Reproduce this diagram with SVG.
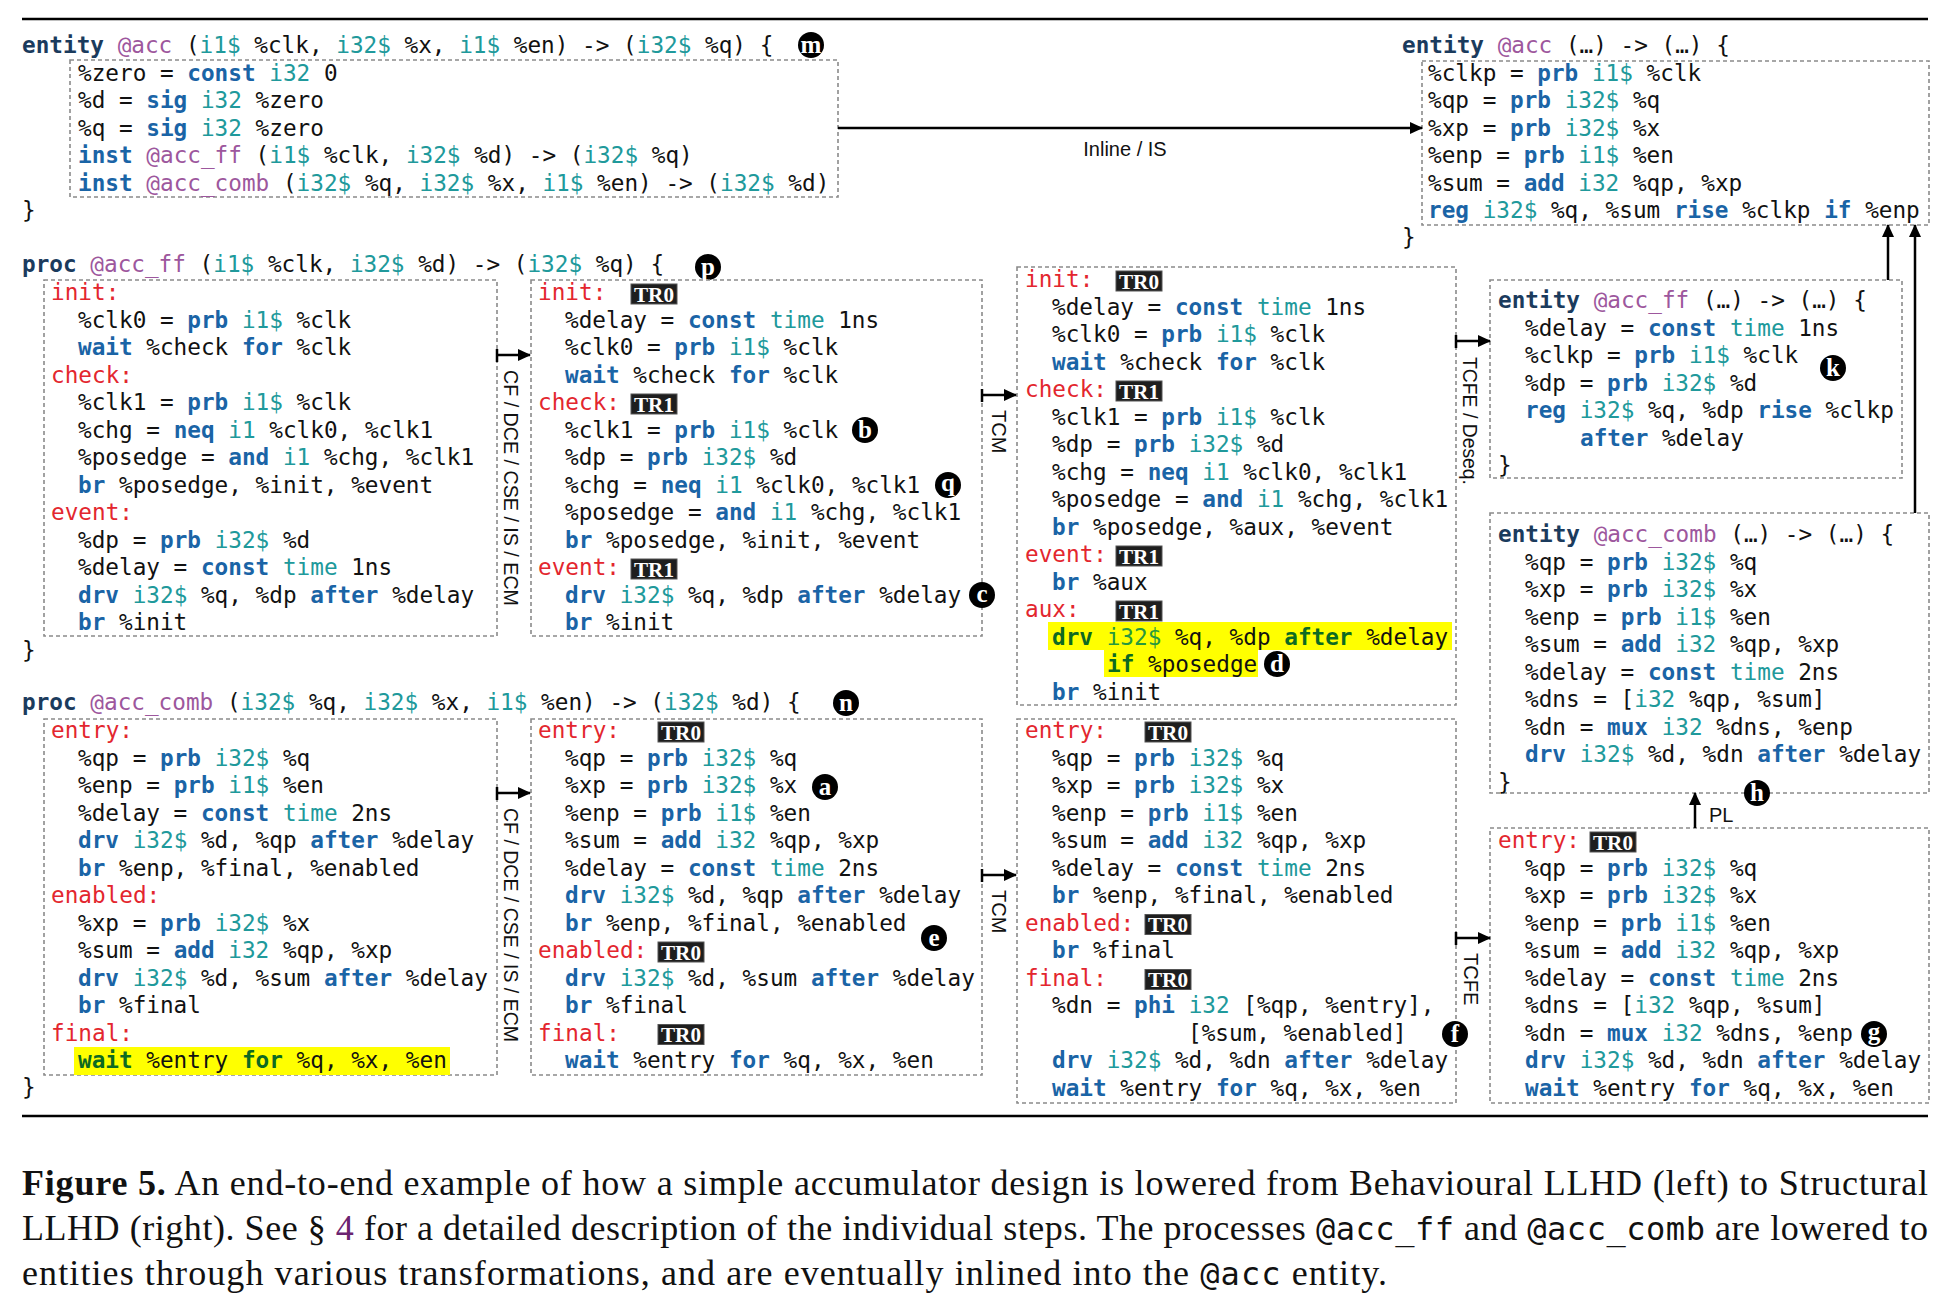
<svg xmlns="http://www.w3.org/2000/svg" width="1959" height="1310" viewBox="0 0 1959 1310">
<style>
.c{font-family:"DejaVu Sans Mono",monospace;font-size:22.7px;fill:#111}
.k{fill:#1a64a6;font-weight:bold}
.d{fill:#1b3b5d;font-weight:bold}
.t{fill:#20999b}
.g{fill:#9d579d}
.l{fill:#e3262e}
.hk{fill:#0d6a22;font-weight:bold}
.ht{fill:#27983f}
.box{fill:none;stroke:#8a8a8a;stroke-width:1.6;stroke-dasharray:4 3}
.hl{fill:#ffff00}
.bd rect{fill:#1e1e1e;stroke:#555;stroke-width:1}
.bd text{font-family:"Liberation Serif",serif;font-weight:bold;font-size:21px;fill:#fff;text-anchor:middle}
.cl circle{fill:#000}
.cl text{font-family:"Liberation Serif",serif;font-weight:bold;font-size:25px;fill:#fff;text-anchor:middle}
.lab{font-family:"Liberation Sans",sans-serif;font-size:20px;fill:#111}
.ar{stroke:#000;stroke-width:2.5;fill:none}
.cap{font-family:"Liberation Serif",serif;font-size:36px;fill:#111}
.cm{font-family:"DejaVu Sans Mono",monospace;font-size:32px}
.rule{stroke:#000;stroke-width:2.6}
</style>
<defs>
<marker id="ah" markerWidth="13" markerHeight="12" refX="12" refY="6" orient="auto" markerUnits="userSpaceOnUse"><path d="M0,0 L13,6 L0,12 z" fill="#000"/></marker>
</defs>
<rect width="1959" height="1310" fill="#fff"/>
<line class="rule" x1="22" y1="19" x2="1928" y2="19"/>
<line class="rule" x1="22" y1="1116" x2="1928" y2="1116"/>

<g id="acc-behavioural">
<rect class="box" x="70" y="60" width="768" height="137"/>
<text class="c" x="22" y="53"><tspan class="d">entity</tspan> <tspan class="g">@acc</tspan> (<tspan class="t">i1$</tspan> %clk, <tspan class="t">i32$</tspan> %x, <tspan class="t">i1$</tspan> %en) -&gt; (<tspan class="t">i32$</tspan> %q) {</text>
<text class="c" x="78" y="80.5">%zero = <tspan class="k">const</tspan> <tspan class="t">i32</tspan> 0</text>
<text class="c" x="78" y="108">%d = <tspan class="k">sig</tspan> <tspan class="t">i32</tspan> %zero</text>
<text class="c" x="78" y="135.5">%q = <tspan class="k">sig</tspan> <tspan class="t">i32</tspan> %zero</text>
<text class="c" x="78" y="163"><tspan class="k">inst</tspan> <tspan class="g">@acc_ff</tspan> (<tspan class="t">i1$</tspan> %clk, <tspan class="t">i32$</tspan> %d) -&gt; (<tspan class="t">i32$</tspan> %q)</text>
<text class="c" x="78" y="190.5"><tspan class="k">inst</tspan> <tspan class="g">@acc_comb</tspan> (<tspan class="t">i32$</tspan> %q, <tspan class="t">i32$</tspan> %x, <tspan class="t">i1$</tspan> %en) -&gt; (<tspan class="t">i32$</tspan> %d)</text>
<text class="c" x="22" y="218">}</text>
<g class="cl"><circle cx="811" cy="45" r="13"/><text x="811" y="53">m</text></g>
</g>

<g id="acc-structural">
<rect class="box" x="1422" y="61" width="507" height="164"/>
<text class="c" x="1402" y="53"><tspan class="d">entity</tspan> <tspan class="g">@acc</tspan> (…) -&gt; (…) {</text>
<text class="c" x="1428" y="80.5">%clkp = <tspan class="k">prb</tspan> <tspan class="t">i1$</tspan> %clk</text>
<text class="c" x="1428" y="108">%qp = <tspan class="k">prb</tspan> <tspan class="t">i32$</tspan> %q</text>
<text class="c" x="1428" y="135.5">%xp = <tspan class="k">prb</tspan> <tspan class="t">i32$</tspan> %x</text>
<text class="c" x="1428" y="163">%enp = <tspan class="k">prb</tspan> <tspan class="t">i1$</tspan> %en</text>
<text class="c" x="1428" y="190.5">%sum = <tspan class="k">add</tspan> <tspan class="t">i32</tspan> %qp, %xp</text>
<text class="c" x="1428" y="218"><tspan class="k">reg</tspan> <tspan class="t">i32$</tspan> %q, %sum <tspan class="k">rise</tspan> %clkp <tspan class="k">if</tspan> %enp</text>
<text class="c" x="1402" y="245">}</text>
</g>

<g id="proc-acc-ff-header">
<text class="c" x="22" y="272"><tspan class="d">proc</tspan> <tspan class="g">@acc_ff</tspan> (<tspan class="t">i1$</tspan> %clk, <tspan class="t">i32$</tspan> %d) -&gt; (<tspan class="t">i32$</tspan> %q) {</text>
<text class="c" x="22" y="657.5">}</text>
<g class="cl"><circle cx="708" cy="267" r="13"/><text x="708" y="275">p</text></g>
</g>

<g id="acc-ff-1">
<rect class="box" x="44" y="280" width="453" height="356"/>
<text class="c l" x="51" y="300">init:</text>
<text class="c" x="78" y="327.5">%clk0 = <tspan class="k">prb</tspan> <tspan class="t">i1$</tspan> %clk</text>
<text class="c" x="78" y="355"><tspan class="k">wait</tspan> %check <tspan class="k">for</tspan> %clk</text>
<text class="c l" x="51" y="382.5">check:</text>
<text class="c" x="78" y="410">%clk1 = <tspan class="k">prb</tspan> <tspan class="t">i1$</tspan> %clk</text>
<text class="c" x="78" y="437.5">%chg = <tspan class="k">neq</tspan> <tspan class="t">i1</tspan> %clk0, %clk1</text>
<text class="c" x="78" y="465">%posedge = <tspan class="k">and</tspan> <tspan class="t">i1</tspan> %chg, %clk1</text>
<text class="c" x="78" y="492.5"><tspan class="k">br</tspan> %posedge, %init, %event</text>
<text class="c l" x="51" y="520">event:</text>
<text class="c" x="78" y="547.5">%dp = <tspan class="k">prb</tspan> <tspan class="t">i32$</tspan> %d</text>
<text class="c" x="78" y="575">%delay = <tspan class="k">const</tspan> <tspan class="t">time</tspan> 1ns</text>
<text class="c" x="78" y="602.5"><tspan class="k">drv</tspan> <tspan class="t">i32$</tspan> %q, %dp <tspan class="k">after</tspan> %delay</text>
<text class="c" x="78" y="630"><tspan class="k">br</tspan> %init</text>
</g>

<g id="acc-ff-2">
<rect class="box" x="531" y="280" width="451" height="356"/>
<text class="c l" x="538" y="300">init:</text>
<g class="bd"><rect x="631" y="284" width="46" height="20"/><text x="654" y="301.5" textLength="40" lengthAdjust="spacingAndGlyphs">TR0</text></g>
<text class="c" x="565" y="327.5">%delay = <tspan class="k">const</tspan> <tspan class="t">time</tspan> 1ns</text>
<text class="c" x="565" y="355">%clk0 = <tspan class="k">prb</tspan> <tspan class="t">i1$</tspan> %clk</text>
<text class="c" x="565" y="382.5"><tspan class="k">wait</tspan> %check <tspan class="k">for</tspan> %clk</text>
<text class="c l" x="538" y="410">check:</text>
<g class="bd"><rect x="631" y="394" width="46" height="20"/><text x="654" y="411.5" textLength="40" lengthAdjust="spacingAndGlyphs">TR1</text></g>
<text class="c" x="565" y="437.5">%clk1 = <tspan class="k">prb</tspan> <tspan class="t">i1$</tspan> %clk</text>
<text class="c" x="565" y="465">%dp = <tspan class="k">prb</tspan> <tspan class="t">i32$</tspan> %d</text>
<text class="c" x="565" y="492.5">%chg = <tspan class="k">neq</tspan> <tspan class="t">i1</tspan> %clk0, %clk1</text>
<text class="c" x="565" y="520">%posedge = <tspan class="k">and</tspan> <tspan class="t">i1</tspan> %chg, %clk1</text>
<text class="c" x="565" y="547.5"><tspan class="k">br</tspan> %posedge, %init, %event</text>
<text class="c l" x="538" y="575">event:</text>
<g class="bd"><rect x="631" y="559" width="46" height="20"/><text x="654" y="576.5" textLength="40" lengthAdjust="spacingAndGlyphs">TR1</text></g>
<text class="c" x="565" y="602.5"><tspan class="k">drv</tspan> <tspan class="t">i32$</tspan> %q, %dp <tspan class="k">after</tspan> %delay</text>
<text class="c" x="565" y="630"><tspan class="k">br</tspan> %init</text>
<g class="cl"><circle cx="865" cy="430" r="13"/><text x="865" y="438">b</text></g>
<g class="cl"><circle cx="948" cy="485" r="13"/><text x="948" y="491">q</text></g>
<g class="cl"><circle cx="982" cy="595" r="13"/><text x="982" y="602">c</text></g>
</g>

<g id="acc-ff-3">
<rect class="box" x="1017" y="267" width="439" height="438"/>
<rect class="hl" x="1048" y="622" width="404" height="28"/>
<rect class="hl" x="1104" y="650" width="154" height="27"/>
<text class="c l" x="1025" y="287">init:</text>
<g class="bd"><rect x="1116" y="271" width="46" height="20"/><text x="1139" y="288.5" textLength="40" lengthAdjust="spacingAndGlyphs">TR0</text></g>
<text class="c" x="1052" y="314.5">%delay = <tspan class="k">const</tspan> <tspan class="t">time</tspan> 1ns</text>
<text class="c" x="1052" y="342">%clk0 = <tspan class="k">prb</tspan> <tspan class="t">i1$</tspan> %clk</text>
<text class="c" x="1052" y="369.5"><tspan class="k">wait</tspan> %check <tspan class="k">for</tspan> %clk</text>
<text class="c l" x="1025" y="397">check:</text>
<g class="bd"><rect x="1116" y="381" width="46" height="20"/><text x="1139" y="398.5" textLength="40" lengthAdjust="spacingAndGlyphs">TR1</text></g>
<text class="c" x="1052" y="424.5">%clk1 = <tspan class="k">prb</tspan> <tspan class="t">i1$</tspan> %clk</text>
<text class="c" x="1052" y="452">%dp = <tspan class="k">prb</tspan> <tspan class="t">i32$</tspan> %d</text>
<text class="c" x="1052" y="479.5">%chg = <tspan class="k">neq</tspan> <tspan class="t">i1</tspan> %clk0, %clk1</text>
<text class="c" x="1052" y="507">%posedge = <tspan class="k">and</tspan> <tspan class="t">i1</tspan> %chg, %clk1</text>
<text class="c" x="1052" y="534.5"><tspan class="k">br</tspan> %posedge, %aux, %event</text>
<text class="c l" x="1025" y="562">event:</text>
<g class="bd"><rect x="1116" y="546" width="46" height="20"/><text x="1139" y="563.5" textLength="40" lengthAdjust="spacingAndGlyphs">TR1</text></g>
<text class="c" x="1052" y="589.5"><tspan class="k">br</tspan> %aux</text>
<text class="c l" x="1025" y="617">aux:</text>
<g class="bd"><rect x="1116" y="601" width="46" height="20"/><text x="1139" y="618.5" textLength="40" lengthAdjust="spacingAndGlyphs">TR1</text></g>
<text class="c" x="1052" y="644.5"><tspan class="hk">drv</tspan> <tspan class="ht">i32$</tspan> %q, %dp <tspan class="hk">after</tspan> %delay</text>
<text class="c" x="1107" y="672"><tspan class="hk">if</tspan> %posedge</text>
<text class="c" x="1052" y="699.5"><tspan class="k">br</tspan> %init</text>
<g class="cl"><circle cx="1277" cy="664" r="13"/><text x="1277" y="672">d</text></g>
</g>

<g id="entity-acc-ff">
<rect class="box" x="1490" y="280" width="412" height="198"/>
<text class="c" x="1498" y="308"><tspan class="d">entity</tspan> <tspan class="g">@acc_ff</tspan> (…) -&gt; (…) {</text>
<text class="c" x="1525" y="335.5">%delay = <tspan class="k">const</tspan> <tspan class="t">time</tspan> 1ns</text>
<text class="c" x="1525" y="363">%clkp = <tspan class="k">prb</tspan> <tspan class="t">i1$</tspan> %clk</text>
<text class="c" x="1525" y="390.5">%dp = <tspan class="k">prb</tspan> <tspan class="t">i32$</tspan> %d</text>
<text class="c" x="1525" y="418"><tspan class="k">reg</tspan> <tspan class="t">i32$</tspan> %q, %dp <tspan class="k">rise</tspan> %clkp</text>
<text class="c" x="1580" y="445.5"><tspan class="k">after</tspan> %delay</text>
<text class="c" x="1498" y="473">}</text>
<g class="cl"><circle cx="1833" cy="368" r="13"/><text x="1833" y="376">k</text></g>
</g>

<g id="proc-acc-comb-header">
<text class="c" x="22" y="710"><tspan class="d">proc</tspan> <tspan class="g">@acc_comb</tspan> (<tspan class="t">i32$</tspan> %q, <tspan class="t">i32$</tspan> %x, <tspan class="t">i1$</tspan> %en) -&gt; (<tspan class="t">i32$</tspan> %d) {</text>
<text class="c" x="22" y="1095">}</text>
<g class="cl"><circle cx="846" cy="703" r="13"/><text x="846" y="711">n</text></g>
</g>

<g id="acc-comb-1">
<rect class="box" x="44" y="719" width="453" height="356"/>
<rect class="hl" x="74" y="1047" width="376" height="28"/>
<text class="c l" x="51" y="738">entry:</text>
<text class="c" x="78" y="765.5">%qp = <tspan class="k">prb</tspan> <tspan class="t">i32$</tspan> %q</text>
<text class="c" x="78" y="793">%enp = <tspan class="k">prb</tspan> <tspan class="t">i1$</tspan> %en</text>
<text class="c" x="78" y="820.5">%delay = <tspan class="k">const</tspan> <tspan class="t">time</tspan> 2ns</text>
<text class="c" x="78" y="848"><tspan class="k">drv</tspan> <tspan class="t">i32$</tspan> %d, %qp <tspan class="k">after</tspan> %delay</text>
<text class="c" x="78" y="875.5"><tspan class="k">br</tspan> %enp, %final, %enabled</text>
<text class="c l" x="51" y="903">enabled:</text>
<text class="c" x="78" y="930.5">%xp = <tspan class="k">prb</tspan> <tspan class="t">i32$</tspan> %x</text>
<text class="c" x="78" y="958">%sum = <tspan class="k">add</tspan> <tspan class="t">i32</tspan> %qp, %xp</text>
<text class="c" x="78" y="985.5"><tspan class="k">drv</tspan> <tspan class="t">i32$</tspan> %d, %sum <tspan class="k">after</tspan> %delay</text>
<text class="c" x="78" y="1013"><tspan class="k">br</tspan> %final</text>
<text class="c l" x="51" y="1040.5">final:</text>
<text class="c" x="78" y="1068"><tspan class="hk">wait</tspan> %entry <tspan class="hk">for</tspan> %q, %x, %en</text>
</g>

<g id="acc-comb-2">
<rect class="box" x="531" y="719" width="451" height="356"/>
<text class="c l" x="538" y="738">entry:</text>
<g class="bd"><rect x="658" y="722" width="46" height="20"/><text x="681" y="739.5" textLength="40" lengthAdjust="spacingAndGlyphs">TR0</text></g>
<text class="c" x="565" y="765.5">%qp = <tspan class="k">prb</tspan> <tspan class="t">i32$</tspan> %q</text>
<text class="c" x="565" y="793">%xp = <tspan class="k">prb</tspan> <tspan class="t">i32$</tspan> %x</text>
<text class="c" x="565" y="820.5">%enp = <tspan class="k">prb</tspan> <tspan class="t">i1$</tspan> %en</text>
<text class="c" x="565" y="848">%sum = <tspan class="k">add</tspan> <tspan class="t">i32</tspan> %qp, %xp</text>
<text class="c" x="565" y="875.5">%delay = <tspan class="k">const</tspan> <tspan class="t">time</tspan> 2ns</text>
<text class="c" x="565" y="903"><tspan class="k">drv</tspan> <tspan class="t">i32$</tspan> %d, %qp <tspan class="k">after</tspan> %delay</text>
<text class="c" x="565" y="930.5"><tspan class="k">br</tspan> %enp, %final, %enabled</text>
<text class="c l" x="538" y="958">enabled:</text>
<g class="bd"><rect x="658" y="942" width="46" height="20"/><text x="681" y="959.5" textLength="40" lengthAdjust="spacingAndGlyphs">TR0</text></g>
<text class="c" x="565" y="985.5"><tspan class="k">drv</tspan> <tspan class="t">i32$</tspan> %d, %sum <tspan class="k">after</tspan> %delay</text>
<text class="c" x="565" y="1013"><tspan class="k">br</tspan> %final</text>
<text class="c l" x="538" y="1040.5">final:</text>
<g class="bd"><rect x="658" y="1024.5" width="46" height="20"/><text x="681" y="1042" textLength="40" lengthAdjust="spacingAndGlyphs">TR0</text></g>
<text class="c" x="565" y="1068"><tspan class="k">wait</tspan> %entry <tspan class="k">for</tspan> %q, %x, %en</text>
<g class="cl"><circle cx="825" cy="787" r="13"/><text x="825" y="795">a</text></g>
<g class="cl"><circle cx="934" cy="938" r="13"/><text x="934" y="946">e</text></g>
</g>

<g id="acc-comb-3">
<rect class="box" x="1017" y="719" width="439" height="384"/>
<text class="c l" x="1025" y="738">entry:</text>
<g class="bd"><rect x="1145" y="722" width="46" height="20"/><text x="1168" y="739.5" textLength="40" lengthAdjust="spacingAndGlyphs">TR0</text></g>
<text class="c" x="1052" y="765.5">%qp = <tspan class="k">prb</tspan> <tspan class="t">i32$</tspan> %q</text>
<text class="c" x="1052" y="793">%xp = <tspan class="k">prb</tspan> <tspan class="t">i32$</tspan> %x</text>
<text class="c" x="1052" y="820.5">%enp = <tspan class="k">prb</tspan> <tspan class="t">i1$</tspan> %en</text>
<text class="c" x="1052" y="848">%sum = <tspan class="k">add</tspan> <tspan class="t">i32</tspan> %qp, %xp</text>
<text class="c" x="1052" y="875.5">%delay = <tspan class="k">const</tspan> <tspan class="t">time</tspan> 2ns</text>
<text class="c" x="1052" y="903"><tspan class="k">br</tspan> %enp, %final, %enabled</text>
<text class="c l" x="1025" y="930.5">enabled:</text>
<g class="bd"><rect x="1145" y="914.5" width="46" height="20"/><text x="1168" y="932" textLength="40" lengthAdjust="spacingAndGlyphs">TR0</text></g>
<text class="c" x="1052" y="958"><tspan class="k">br</tspan> %final</text>
<text class="c l" x="1025" y="985.5">final:</text>
<g class="bd"><rect x="1145" y="969.5" width="46" height="20"/><text x="1168" y="987" textLength="40" lengthAdjust="spacingAndGlyphs">TR0</text></g>
<text class="c" x="1052" y="1013">%dn = <tspan class="k">phi</tspan> <tspan class="t">i32</tspan> [%qp, %entry],</text>
<text class="c" x="1188" y="1040.5">[%sum, %enabled]</text>
<text class="c" x="1052" y="1068"><tspan class="k">drv</tspan> <tspan class="t">i32$</tspan> %d, %dn <tspan class="k">after</tspan> %delay</text>
<text class="c" x="1052" y="1095.5"><tspan class="k">wait</tspan> %entry <tspan class="k">for</tspan> %q, %x, %en</text>
<g class="cl"><circle cx="1455" cy="1034" r="13"/><text x="1455" y="1042">f</text></g>
</g>

<g id="entity-acc-comb">
<rect class="box" x="1490" y="513" width="439" height="280"/>
<text class="c" x="1498" y="542"><tspan class="d">entity</tspan> <tspan class="g">@acc_comb</tspan> (…) -&gt; (…) {</text>
<text class="c" x="1525" y="569.5">%qp = <tspan class="k">prb</tspan> <tspan class="t">i32$</tspan> %q</text>
<text class="c" x="1525" y="597">%xp = <tspan class="k">prb</tspan> <tspan class="t">i32$</tspan> %x</text>
<text class="c" x="1525" y="624.5">%enp = <tspan class="k">prb</tspan> <tspan class="t">i1$</tspan> %en</text>
<text class="c" x="1525" y="652">%sum = <tspan class="k">add</tspan> <tspan class="t">i32</tspan> %qp, %xp</text>
<text class="c" x="1525" y="679.5">%delay = <tspan class="k">const</tspan> <tspan class="t">time</tspan> 2ns</text>
<text class="c" x="1525" y="707">%dns = [<tspan class="t">i32</tspan> %qp, %sum]</text>
<text class="c" x="1525" y="734.5">%dn = <tspan class="k">mux</tspan> <tspan class="t">i32</tspan> %dns, %enp</text>
<text class="c" x="1525" y="762"><tspan class="k">drv</tspan> <tspan class="t">i32$</tspan> %d, %dn <tspan class="k">after</tspan> %delay</text>
<text class="c" x="1498" y="789.5">}</text>
<g class="cl"><circle cx="1757" cy="793" r="13"/><text x="1757" y="801">h</text></g>
</g>

<g id="acc-comb-4">
<rect class="box" x="1490" y="828" width="439" height="275"/>
<text class="c l" x="1498" y="848">entry:</text>
<g class="bd"><rect x="1590" y="832" width="46" height="20"/><text x="1613" y="849.5" textLength="40" lengthAdjust="spacingAndGlyphs">TR0</text></g>
<text class="c" x="1525" y="875.5">%qp = <tspan class="k">prb</tspan> <tspan class="t">i32$</tspan> %q</text>
<text class="c" x="1525" y="903">%xp = <tspan class="k">prb</tspan> <tspan class="t">i32$</tspan> %x</text>
<text class="c" x="1525" y="930.5">%enp = <tspan class="k">prb</tspan> <tspan class="t">i1$</tspan> %en</text>
<text class="c" x="1525" y="958">%sum = <tspan class="k">add</tspan> <tspan class="t">i32</tspan> %qp, %xp</text>
<text class="c" x="1525" y="985.5">%delay = <tspan class="k">const</tspan> <tspan class="t">time</tspan> 2ns</text>
<text class="c" x="1525" y="1013">%dns = [<tspan class="t">i32</tspan> %qp, %sum]</text>
<text class="c" x="1525" y="1040.5">%dn = <tspan class="k">mux</tspan> <tspan class="t">i32</tspan> %dns, %enp</text>
<text class="c" x="1525" y="1068"><tspan class="k">drv</tspan> <tspan class="t">i32$</tspan> %d, %dn <tspan class="k">after</tspan> %delay</text>
<text class="c" x="1525" y="1095.5"><tspan class="k">wait</tspan> %entry <tspan class="k">for</tspan> %q, %x, %en</text>
<g class="cl"><circle cx="1874" cy="1034" r="13"/><text x="1874" y="1040">g</text></g>
</g>

<g id="connectors">
<line class="ar" x1="838" y1="128" x2="1422" y2="128" marker-end="url(#ah)"/>
<text class="lab" x="1125" y="156" text-anchor="middle" font-size="21">Inline / IS</text>
<path class="ar" d="M497,349 V362 M497,355 H530" marker-end="url(#ah)"/>
<text class="lab" transform="translate(504,370) rotate(90)" textLength="236" lengthAdjust="spacingAndGlyphs">CF / DCE / CSE / IS / ECM</text>
<path class="ar" d="M982,389 V402 M982,395 H1016" marker-end="url(#ah)"/>
<text class="lab" transform="translate(992,410) rotate(90)">TCM</text>
<path class="ar" d="M1456,335 V348 M1456,341 H1490" marker-end="url(#ah)"/>
<text class="lab" transform="translate(1463,357) rotate(90)" textLength="128" lengthAdjust="spacingAndGlyphs">TCFE / Deseq.</text>
<path class="ar" d="M497,787 V800 M497,793 H530" marker-end="url(#ah)"/>
<text class="lab" transform="translate(504,808) rotate(90)" textLength="234" lengthAdjust="spacingAndGlyphs">CF / DCE / CSE / IS / ECM</text>
<path class="ar" d="M982,869 V882 M982,875 H1016" marker-end="url(#ah)"/>
<text class="lab" transform="translate(992,890) rotate(90)">TCM</text>
<path class="ar" d="M1456,932 V945 M1456,938 H1490" marker-end="url(#ah)"/>
<text class="lab" transform="translate(1464,953) rotate(90)">TCFE</text>
<line class="ar" x1="1695" y1="828" x2="1695" y2="793" marker-end="url(#ah)"/>
<text class="lab" x="1709" y="822">PL</text>
<line class="ar" x1="1888" y1="280" x2="1888" y2="225" marker-end="url(#ah)"/>
<line class="ar" x1="1915" y1="513" x2="1915" y2="225" marker-end="url(#ah)"/>
</g>

<g id="caption">
<text class="cap" x="22" y="1195" textLength="1906" lengthAdjust="spacing"><tspan font-weight="bold">Figure 5.</tspan> An end-to-end example of how a simple accumulator design is lowered from Behavioural LLHD (left) to Structural</text>
<text class="cap" x="22" y="1240" textLength="1906" lengthAdjust="spacing">LLHD (right). See § <tspan fill="#6b2470">4</tspan> for a detailed description of the individual steps. The processes <tspan class="cm">@acc_ff</tspan> and <tspan class="cm">@acc_comb</tspan> are lowered to</text>
<text class="cap" x="22" y="1285" textLength="1365" lengthAdjust="spacing">entities through various transformations, and are eventually inlined into the <tspan class="cm">@acc</tspan> entity.</text>
</g>
</svg>
